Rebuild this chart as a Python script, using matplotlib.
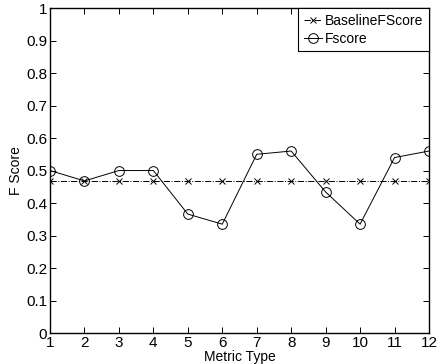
import matplotlib
matplotlib.use("Agg")
import matplotlib.pyplot as plt

metric_type = list(range(1, 13))
baseline_fscore = [0.468] * 12
fscore = [0.50, 0.468, 0.50, 0.50, 0.366, 0.335, 0.55, 0.56, 0.434, 0.335, 0.54, 0.56]
yticks = [0, 0.1, 0.2, 0.3, 0.4, 0.5, 0.6, 0.7, 0.8, 0.9, 1]
yticklabels = ["0", "0.1", "0.2", "0.3", "0.4", "0.5", "0.6", "0.7", "0.8", "0.9", "1"]

plt.rcParams['font.family'] = ['Liberation Sans', 'DejaVu Sans']
plt.rcParams['font.size'] = 9

fig = plt.figure(figsize=(4.4, 3.64), dpi=100)
ax = fig.add_axes([0.1136, 0.085, 0.8614, 0.893])

ax.plot(metric_type, baseline_fscore, color='black', linestyle='-.', linewidth=0.7,
        marker='x', markersize=4, markeredgewidth=0.7, label='BaselineFScore')
ax.plot(metric_type, fscore, color='black', linestyle='-', linewidth=0.7,
        marker='o', markersize=7, markerfacecolor='none', markeredgewidth=0.7, label='Fscore')

ax.set_xlim(1, 12)
ax.set_ylim(0, 1)
ax.set_xticks(metric_type)
ax.set_yticks(yticks)
ax.set_yticklabels(yticklabels)
ax.tick_params(direction='in', top=True, right=True, length=4, width=0.7, pad=2, labelsize=11)
for s in ax.spines.values():
    s.set_linewidth(1.0)

ax.set_xlabel('Metric Type', fontsize=10, labelpad=0)
ax.set_ylabel('F Score', fontsize=10, labelpad=2)

leg = ax.legend(loc='upper right', fontsize=10, frameon=True, fancybox=False,
                edgecolor='black', framealpha=1, handlelength=1.3, handletextpad=0.25,
                borderpad=0.4, labelspacing=0.3, borderaxespad=0.0)
leg.get_frame().set_linewidth(0.8)

fig.savefig('out.png', dpi=100)
